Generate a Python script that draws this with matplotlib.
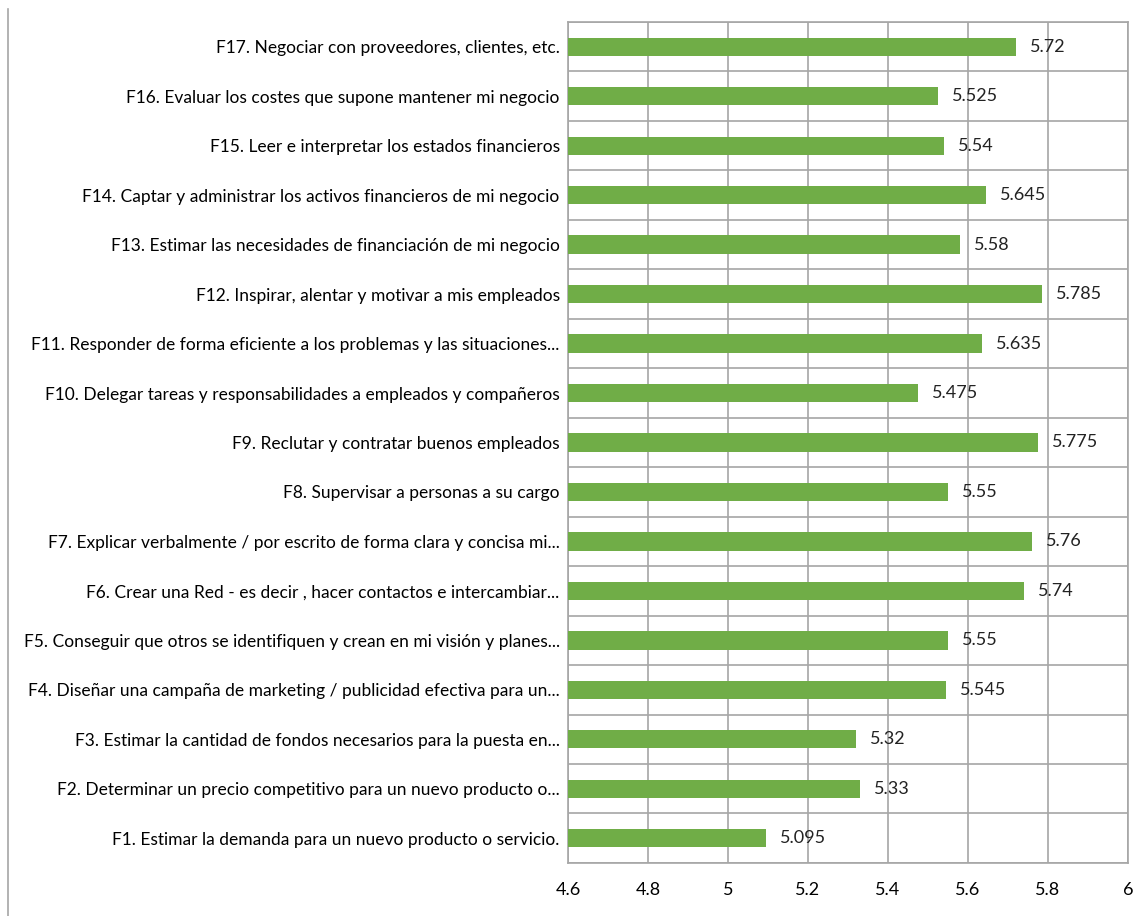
import matplotlib
matplotlib.use("Agg")
import matplotlib.pyplot as plt
import numpy as np

plt.rcParams['font.family'] = ['Lato', 'DejaVu Sans']

labels = [
    "F1. Estimar la demanda para un nuevo producto o servicio.",
    "F2. Determinar un precio competitivo para un nuevo producto o...",
    "F3. Estimar la cantidad de fondos necesarios para la puesta en...",
    "F4. Diseñar una campaña de marketing / publicidad efectiva para un...",
    "F5. Conseguir que otros se identifiquen y crean en mi visión y planes...",
    "F6. Crear una Red - es decir , hacer contactos e intercambiar...",
    "F7. Explicar verbalmente / por escrito de forma clara y concisa mi...",
    "F8. Supervisar a personas a su cargo",
    "F9. Reclutar y contratar buenos empleados",
    "F10. Delegar tareas y responsabilidades a empleados y compañeros",
    "F11. Responder de forma eficiente a los problemas y las situaciones...",
    "F12. Inspirar, alentar y motivar a mis empleados",
    "F13. Estimar las necesidades de financiación de mi negocio",
    "F14. Captar y administrar los activos financieros de mi negocio",
    "F15. Leer e interpretar los estados financieros",
    "F16. Evaluar los costes que supone mantener mi negocio",
    "F17. Negociar con proveedores, clientes, etc.",
]
values = [5.095, 5.33, 5.32, 5.545, 5.55, 5.74, 5.76, 5.55, 5.775, 5.475,
          5.635, 5.785, 5.58, 5.645, 5.54, 5.525, 5.72]
value_text = ["5.095", "5.33", "5.32", "5.545", "5.55", "5.74", "5.76", "5.55", "5.775",
              "5.475", "5.635", "5.785", "5.58", "5.645", "5.54", "5.525", "5.72"]
xticks = [4.6, 4.8, 5.0, 5.2, 5.4, 5.6, 5.8, 6.0]
xtick_labels = ["4.6", "4.8", "5", "5.2", "5.4", "5.6", "5.8", "6"]

fig = plt.figure(figsize=(11.48, 9.16), dpi=100)
ax = fig.add_axes([0.4948, 0.0579, 0.4878, 0.9181])

y = np.arange(len(labels))
ax.barh(y, np.array(values) - 4.6, left=4.6, height=0.37, color='#70AD47', zorder=3)

for yi, v, t in zip(y, values, value_text):
    ax.annotate(t, (v, yi), xytext=(10, 0), textcoords='offset points',
                va='center', ha='left', fontsize=13, color='#222222', zorder=4)

ax.set_xlim(4.6, 6.0)
ax.set_ylim(-0.5, len(labels) - 0.5)
ax.set_xticks(xticks)
ax.set_xticklabels(xtick_labels, fontsize=13)
ax.set_yticks(y)
ax.set_yticklabels(labels, fontsize=12.5)
ax.set_yticks(np.arange(-0.5, len(labels), 1.0), minor=True)
ax.tick_params(axis='both', which='both', length=0)
ax.tick_params(axis='y', pad=6)
ax.tick_params(axis='x', pad=14)

ax.grid(axis='x', color='#A6A6A6', linewidth=1.2, zorder=1)
ax.grid(axis='y', which='minor', color='#A6A6A6', linewidth=1.2, zorder=1)
ax.grid(axis='y', which='major', visible=False)
for s in ax.spines.values():
    s.set_color('#A6A6A6')
    s.set_linewidth(1.2)

# thin border line at the left of the picture
fig.add_artist(plt.Line2D([0.007, 0.007], [0.0, 0.99], color='#A6A6A6', linewidth=1.2))

fig.savefig('out.png', dpi=100)
